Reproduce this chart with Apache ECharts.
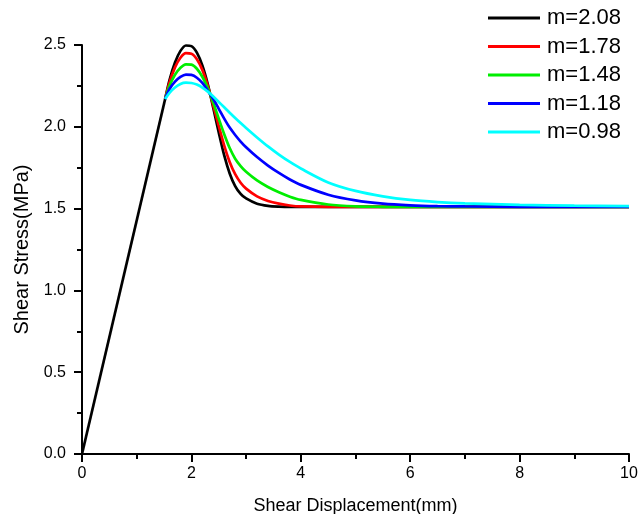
<!DOCTYPE html>
<html>
<head>
<meta charset="utf-8">
<script src="https://cdn.jsdelivr.net/npm/echarts@6/dist/echarts.min.js"></script>
<style>
    html, body { margin: 0; padding: 0; background: #fff; }
    #chart { width: 640px; height: 514px; }
</style>
</head>
<body>
<div id="chart"></div>
<script>
// linear elastic part shared by every curve
var linX = [0, 1.52];
var linY = [0, 2.17];

// softening part, same displacements for every curve
var dispX = [1.52, 1.6, 1.7, 1.8, 1.9, 2.0, 2.1, 2.2, 2.3, 2.4, 2.5, 2.6, 2.7, 2.8, 2.9, 3.0,
    3.2, 3.4, 3.6, 3.8, 4.0, 4.5, 5, 5.5, 6, 6.5, 7, 8, 9, 10];

var m208 = [2.17, 2.286, 2.393, 2.464, 2.497, 2.493, 2.453, 2.375, 2.26, 2.115, 1.965, 1.825, 1.715, 1.638, 1.59, 1.562,
    1.53, 1.517, 1.512, 1.51, 1.51, 1.51, 1.51, 1.51, 1.51, 1.51, 1.51, 1.51, 1.51, 1.51];
var m178 = [2.17, 2.271, 2.363, 2.422, 2.450, 2.447, 2.413, 2.348, 2.25, 2.13, 2.005, 1.885, 1.785, 1.71, 1.658, 1.622,
    1.575, 1.547, 1.53, 1.519, 1.513, 1.51, 1.51, 1.51, 1.51, 1.51, 1.51, 1.51, 1.51, 1.51];
var m148 = [2.17, 2.251, 2.318, 2.361, 2.382, 2.380, 2.355, 2.306, 2.235, 2.148, 2.05, 1.955, 1.87, 1.805, 1.76, 1.725,
    1.672, 1.632, 1.60, 1.573, 1.553, 1.525, 1.514, 1.511, 1.51, 1.51, 1.51, 1.51, 1.51, 1.51];
var m118 = [2.17, 2.231, 2.276, 2.305, 2.319, 2.317, 2.30, 2.268, 2.221, 2.17, 2.11, 2.05, 1.995, 1.95, 1.91, 1.875,
    1.815, 1.763, 1.718, 1.678, 1.645, 1.585, 1.55, 1.53, 1.52, 1.515, 1.513, 1.511, 1.51, 1.51];
var m098 = [2.17, 2.208, 2.24, 2.262, 2.27, 2.268, 2.258, 2.24, 2.215, 2.185, 2.152, 2.119, 2.086, 2.054, 2.023, 1.993,
    1.935, 1.88, 1.83, 1.785, 1.745, 1.66, 1.608, 1.575, 1.553, 1.54, 1.532, 1.523, 1.518, 1.515];

var names = ['m=2.08', 'm=1.78', 'm=1.48', 'm=1.18', 'm=0.98'];
var colors = ['#000000', '#ff0000', '#00ee00', '#0000ff', '#00ffff'];
var curves = [m208, m178, m148, m118, m098];

var font = '"Liberation Sans", Arial, sans-serif';

function pairs(xs, ys) {
    return xs.map(function(x, i) {
        return [x, ys[i]];
    });
}

var series = [{
    name: 'elastic',
    type: 'line',
    data: pairs(linX, linY),
    showSymbol: false,
    silent: true,
    lineStyle: { color: '#000', width: 2.7 },
    itemStyle: { color: '#000' }
}];
curves.forEach(function(c, i) {
    series.push({
        name: names[i],
        type: 'line',
        data: pairs(dispX, c),
        smooth: 0.3,
        showSymbol: false,
        lineStyle: { color: colors[i], width: 2.7 },
        itemStyle: { color: colors[i] }
    });
});

var myChart = echarts.init(document.getElementById('chart'));
myChart.setOption({
    animation: false,
    legend: {
        data: names,
        orient: 'vertical',
        left: 483,
        top: 2,
        icon: 'rect',
        itemWidth: 52,
        itemHeight: 3,
        itemGap: 6.5,
        textStyle: { fontSize: 22, lineHeight: 22, color: '#000', fontFamily: font, padding: [0, 0, 0, 2] }
    },
    grid: {
        left: 82,
        right: 11,
        top: 45,
        bottom: 60,
        outerBoundsMode: 'none'
    },
    xAxis: {
        type: 'value',
        min: 0,
        max: 10,
        interval: 2,
        name: 'Shear Displacement(mm)',
        nameLocation: 'middle',
        nameGap: 43,
        nameTextStyle: { fontSize: 18, color: '#000', fontFamily: font },
        axisLine: { lineStyle: { color: '#000', width: 2 } },
        axisTick: { length: 8, lineStyle: { color: '#000', width: 2 } },
        minorTick: { show: true, splitNumber: 2, length: 5, lineStyle: { color: '#000', width: 2 } },
        axisLabel: { fontSize: 16, color: '#000', fontFamily: font, margin: 12 },
        splitLine: { show: false }
    },
    yAxis: {
        type: 'value',
        min: 0,
        max: 2.5,
        interval: 0.5,
        name: 'Shear Stress(MPa)',
        nameLocation: 'middle',
        nameGap: 44,
        nameTextStyle: { fontSize: 20, color: '#000', fontFamily: font },
        axisLine: { lineStyle: { color: '#000', width: 2 } },
        axisTick: { length: 8, lineStyle: { color: '#000', width: 2 } },
        minorTick: { show: true, splitNumber: 2, length: 5, lineStyle: { color: '#000', width: 2 } },
        axisLabel: {
            fontSize: 16, color: '#000', fontFamily: font, margin: 16,
            formatter: function(v) { return v.toFixed(1); }
        },
        splitLine: { show: false }
    },
    series: series
});
</script>
</body>
</html>
